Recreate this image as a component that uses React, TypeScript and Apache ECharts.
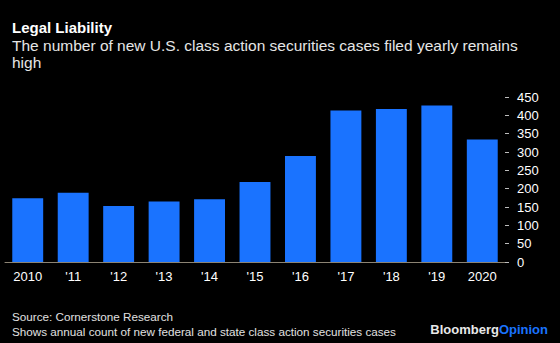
import React, { useEffect, useRef } from "react";
import * as echarts from "echarts";

const years = ["2010", "'11", "'12", "'13", "'14", "'15", "'16", "'17", "'18", "'19", "2020"];
const cases = [174, 189, 153, 165, 171, 218, 289, 413, 417, 427, 334];
const yTicks = [0, 50, 100, 150, 200, 250, 300, 350, 400, 450];

const FONT = "Liberation Sans, Arial, sans-serif";

export default function App() {
  const ref = useRef<HTMLDivElement>(null);
  useEffect(() => {
    if (!ref.current) return;
    const chart = echarts.init(ref.current, null, { renderer: "svg" });
    chart.setOption({
      animation: false,
      backgroundColor: "#000000",
      title: [
        {
          text: "Legal Liability",
          left: 12,
          top: 20,
          padding: 0,
          textStyle: { color: "#ffffff", fontSize: 15, fontWeight: "bold", fontFamily: FONT, lineHeight: 15 },
        },
        {
          text: "The number of new U.S. class action securities cases filed yearly remains\nhigh",
          left: 12,
          top: 37,
          padding: 0,
          textStyle: { color: "#e6e6e6", fontSize: 15.5, fontWeight: "normal", fontFamily: FONT, lineHeight: 17 },
        },
        {
          text: "Source: Cornerstone Research\nShows annual count of new federal and state class action securities cases",
          left: 12,
          top: 309,
          padding: 0,
          textStyle: { color: "#e0e0e0", fontSize: 11.7, fontWeight: "normal", fontFamily: FONT, lineHeight: 15 },
        },
        {
          text: "{a|Bloomberg}{b|Opinion}",
          right: 12,
          top: 323,
          padding: 0,
          textStyle: {
            rich: {
              a: { color: "#e8e8e8", fontSize: 13, fontWeight: "bold", fontFamily: FONT },
              b: { color: "#1a73ff", fontSize: 13, fontWeight: "bold", fontFamily: FONT },
            },
          },
        },
      ],
      grid: { left: 5, right: 55, top: 97, bottom: 81, containLabel: false },
      xAxis: {
        type: "category",
        data: years,
        axisLine: { show: true, lineStyle: { color: "#8c8474", width: 1 } },
        axisTick: { show: false },
        axisLabel: { color: "#ffffff", fontSize: 13, fontFamily: FONT, margin: 8, interval: 0 },
      },
      yAxis: {
        type: "value",
        position: "right",
        min: yTicks[0],
        max: yTicks[yTicks.length - 1],
        interval: 50,
        splitLine: { show: false },
        axisLine: { show: false },
        axisTick: { show: true, length: 4, lineStyle: { color: "#bdbdbd" } },
        axisLabel: { color: "#ffffff", fontSize: 13, fontFamily: FONT, margin: 12 },
      },
      series: [
        {
          type: "bar",
          data: cases,
          barCategoryGap: "32%",
          itemStyle: { color: "#1a73ff" },
        },
      ],
    });
    return () => chart.dispose();
  }, []);
  return <div ref={ref} style={{ position: "fixed", left: 0, top: 0, width: 560, height: 343 }} />;
}
